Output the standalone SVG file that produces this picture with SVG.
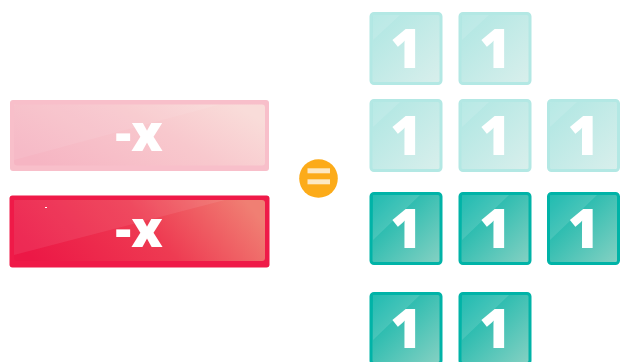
<svg xmlns="http://www.w3.org/2000/svg" width="620" height="362" viewBox="0 0 620 362">
<defs>
<linearGradient id="gPink" x1="0" y1="0.7" x2="1" y2="0.3"><stop offset="0" stop-color="#f6b5c3"/><stop offset="0.6" stop-color="#f8c8cd"/><stop offset="1" stop-color="#f9dcd9"/></linearGradient>
<linearGradient id="gRed" x1="0" y1="0.6" x2="1" y2="0.4"><stop offset="0" stop-color="#ec1846"/><stop offset="0.55" stop-color="#ee3b52"/><stop offset="1" stop-color="#f07f73"/></linearGradient>
<linearGradient id="gLight" x1="0" y1="0" x2="1" y2="1"><stop offset="0" stop-color="#ade6e2"/><stop offset="1" stop-color="#d9efec"/></linearGradient>
<linearGradient id="gDark" x1="0" y1="0" x2="1" y2="1"><stop offset="0" stop-color="#00b2a6"/><stop offset="1" stop-color="#86d1c3"/></linearGradient>
</defs>
<style>
.t{font-family:"Open Sans","Liberation Sans",Arial,sans-serif;font-weight:800;fill:#fff;text-anchor:middle}
.bar{font-size:50px}
.one{font-size:54px}
.lt{fill:url(#gLight);stroke:#b3e8e4;stroke-width:3}
.dk{fill:url(#gDark);stroke:#00b3a7;stroke-width:3}
.gl{fill:#fff;opacity:0.12}
</style>
<g id="bar1">
<rect x="10" y="100" width="259" height="71" rx="3" fill="#f8bfca"/>
<rect x="14" y="104.5" width="251" height="61" rx="3" fill="url(#gPink)"/>
<polygon points="14,160 14,104.5 220,104.5" fill="#fff" opacity="0.08"/>
<text class="t bar" x="139" y="151">-x</text>
</g>
<g id="bar2">
<rect x="9.5" y="195.5" width="260" height="72" rx="3" fill="#ef1a48"/>
<rect x="14" y="200" width="251" height="61" rx="3" fill="url(#gRed)"/>
<polygon points="14,255 14,200 225,200" fill="#fff" opacity="0.08"/>
<rect x="45" y="207" width="2" height="1" fill="#fff"/>
<text class="t bar" x="139" y="247">-x</text>
</g>
<g id="equals">
<circle cx="318.5" cy="178.5" r="19.3" fill="#fcab19"/>
<rect x="307.5" y="168.3" width="22.5" height="5" fill="#fde8c2"/>
<rect x="307.5" y="179.3" width="22.5" height="5" fill="#fde8c2"/>
</g>
<g id="tile-r1c1"><rect class="lt" x="371" y="13.5" width="70" height="70" rx="3"/><polygon class="gl" points="373,40 373,15 400,15"/><text class="t one" x="406" y="68">1</text></g>
<g id="tile-r1c2"><rect class="lt" x="460" y="13.5" width="70" height="70" rx="3"/><polygon class="gl" points="462,40 462,15 489,15"/><text class="t one" x="495" y="68">1</text></g>
<g id="tile-r2c1"><rect class="lt" x="371" y="100.5" width="70" height="70" rx="3"/><polygon class="gl" points="373,127 373,102 400,102"/><text class="t one" x="406" y="155">1</text></g>
<g id="tile-r2c2"><rect class="lt" x="460" y="100.5" width="70" height="70" rx="3"/><polygon class="gl" points="462,127 462,102 489,102"/><text class="t one" x="495" y="155">1</text></g>
<g id="tile-r2c3"><rect class="lt" x="548.5" y="100.5" width="70" height="70" rx="3"/><polygon class="gl" points="550,127 550,102 577,102"/><text class="t one" x="583.5" y="155">1</text></g>
<g id="tile-r3c1"><rect class="dk" x="371" y="193.5" width="70" height="70" rx="3"/><polygon class="gl" points="373,240 373,195 420,195"/><text class="t one" x="406" y="248">1</text></g>
<g id="tile-r3c2"><rect class="dk" x="460" y="193.5" width="70" height="70" rx="3"/><polygon class="gl" points="462,240 462,195 509,195"/><text class="t one" x="495" y="248">1</text></g>
<g id="tile-r3c3"><rect class="dk" x="548.5" y="193.5" width="70" height="70" rx="3"/><polygon class="gl" points="550,240 550,195 597,195"/><text class="t one" x="583.5" y="248">1</text></g>
<g id="tile-r4c1"><rect class="dk" x="371" y="293.5" width="70" height="70" rx="3"/><polygon class="gl" points="373,340 373,295 420,295"/><text class="t one" x="406" y="348">1</text></g>
<g id="tile-r4c2"><rect class="dk" x="460" y="293.5" width="70" height="70" rx="3"/><polygon class="gl" points="462,340 462,295 509,295"/><text class="t one" x="495" y="348">1</text></g>
</svg>
